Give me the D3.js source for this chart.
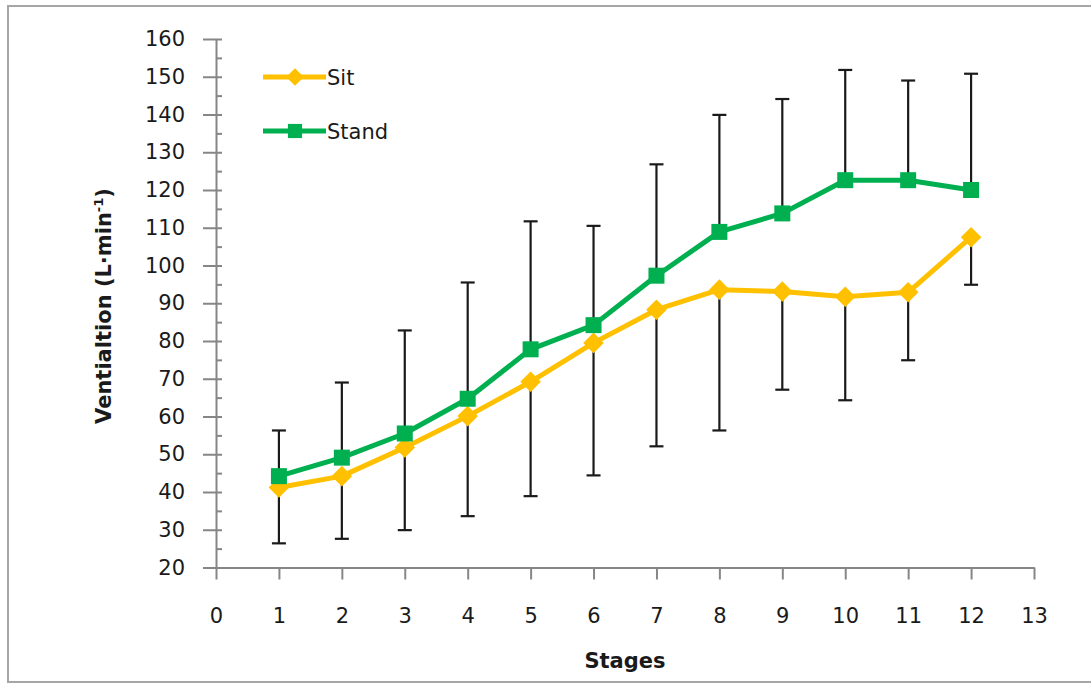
<!doctype html>
<html>
<head>
<meta charset="UTF-8">
<script src="https://d3js.org/d3.v7.min.js"></script>
<style>
  body { margin: 0; background: #fff; }
  svg text { font-family: "DejaVu Sans", sans-serif; fill: #1a1a1a; }
</style>
</head>
<body>
<div id="chart"></div>
<script>
// data
var stages = [1, 2, 3, 4, 5, 6, 7, 8, 9, 10, 11, 12];
var sit = [41.2, 44.2, 51.8, 60.1, 69.2, 79.5, 88.3, 93.6, 93.1, 91.7, 92.9, 107.5];
var stand = [44.2, 49.1, 55.5, 64.7, 77.8, 84.2, 97.3, 108.9, 113.8, 122.6, 122.6, 120.0];
var standUpper = [56.3, 69.0, 82.8, 95.5, 111.7, 110.5, 126.8, 139.9, 144.1, 151.8, 149.0, 150.8];
var sitLower = [26.4, 27.6, 29.9, 33.6, 38.9, 44.4, 52.1, 56.3, 67.1, 64.3, 74.9, 94.9];
var xTicks = d3.range(0, 14);
var yTicks = d3.range(20, 161, 10);
var yMinor = d3.range(25, 160, 10);

var width = 1091, height = 683;
var sitColor = "#FFC000", standColor = "#00B050", axisColor = "#868686";

var svg = d3.select("#chart").append("svg")
	.attr("width", width)
	.attr("height", height);

// frame (right side runs off the picture)
svg.append("rect")
	.attr("x", 8).attr("y", 6)
	.attr("width", 1100).attr("height", 676)
	.attr("fill", "none")
	.attr("stroke", "#a6a6a6")
	.attr("stroke-width", 2);

var x = d3.scaleLinear().domain([0, 13]).range([216, 1034]);
var y = d3.scaleLinear().domain([20, 160]).range([567.5, 39]);

// Y axis - major ticks cross the line
var yAxis = svg.append("g")
	.attr("transform", "translate(" + x(0) + ",0)")
	.call(d3.axisLeft(y).tickValues(yTicks).tickSize(13).tickSizeOuter(0).tickPadding(18));
yAxis.selectAll(".tick line").attr("x1", 6);
yAxis.selectAll("text").style("font-size", "21px");

// minor ticks inside
svg.append("g")
	.attr("transform", "translate(" + x(0) + ",0)")
	.call(d3.axisLeft(y).tickValues(yMinor).tickSize(-6).tickFormat(""))
	.call(g => g.select(".domain").remove());

// X axis
var xAxis = svg.append("g")
	.attr("transform", "translate(0," + y(20) + ")")
	.call(d3.axisBottom(x).tickValues(xTicks).tickSize(12).tickSizeOuter(0).tickPadding(29));
xAxis.selectAll("text").style("font-size", "21px");

svg.selectAll(".domain, .tick line")
	.attr("stroke", axisColor)
	.attr("stroke-width", 2);

// axis titles
svg.append("text")
	.attr("x", x(6.5))
	.attr("y", 668)
	.attr("text-anchor", "middle")
	.style("font-size", "21px")
	.style("font-weight", "bold")
	.text("Stages");

var yTitle = svg.append("text")
	.attr("transform", "translate(111,306) rotate(-90)")
	.attr("text-anchor", "middle")
	.style("font-size", "21px")
	.style("font-weight", "bold");
yTitle.append("tspan").text("Ventialtion (L·min");
yTitle.append("tspan").attr("dy", -8).style("font-size", "13px").text("-1");
yTitle.append("tspan").attr("dy", 8).text(")");

// error bars: Stand up, Sit down
var capW = 7;
var errs = svg.append("g").attr("stroke", "#1a1a1a").attr("stroke-width", 2.2);
stages.forEach(function (s, i) {
	errs.append("line").attr("x1", x(s)).attr("x2", x(s)).attr("y1", y(stand[i])).attr("y2", y(standUpper[i]));
	errs.append("line").attr("x1", x(s) - capW).attr("x2", x(s) + capW).attr("y1", y(standUpper[i])).attr("y2", y(standUpper[i]));
	errs.append("line").attr("x1", x(s)).attr("x2", x(s)).attr("y1", y(sit[i])).attr("y2", y(sitLower[i]));
	errs.append("line").attr("x1", x(s) - capW).attr("x2", x(s) + capW).attr("y1", y(sitLower[i])).attr("y2", y(sitLower[i]));
});

var line = d3.line().x(d => x(d[0])).y(d => y(d[1]));
var diamond = d3.symbol().type(d3.symbolDiamond2).size(270);
var square = d3.symbol().type(d3.symbolSquare).size(256);

function drawSeries(vals, color, sym) {
	var pts = stages.map((s, i) => [s, vals[i]]);
	svg.append("path")
		.datum(pts)
		.attr("d", line)
		.attr("fill", "none")
		.attr("stroke", color)
		.attr("stroke-width", 5)
		.attr("stroke-linejoin", "round");
	svg.append("g").selectAll("path")
		.data(pts)
		.enter()
		.append("path")
			.attr("d", sym)
			.attr("transform", d => "translate(" + x(d[0]) + "," + y(d[1]) + ")")
			.attr("fill", color);
}
drawSeries(sit, sitColor, diamond);
drawSeries(stand, standColor, square);

// legend
var legend = [
	{ name: "Sit", color: sitColor, sym: d3.symbol().type(d3.symbolDiamond2).size(200), y: 77 },
	{ name: "Stand", color: standColor, sym: d3.symbol().type(d3.symbolSquare).size(200), y: 131 }
];
legend.forEach(function (l) {
	svg.append("line")
		.attr("x1", 263).attr("x2", 326)
		.attr("y1", l.y).attr("y2", l.y)
		.attr("stroke", l.color)
		.attr("stroke-width", 5);
	svg.append("path")
		.attr("d", l.sym)
		.attr("transform", "translate(295," + l.y + ")")
		.attr("fill", l.color);
	svg.append("text")
		.attr("x", 327)
		.attr("y", l.y)
		.attr("dy", "0.36em")
		.style("font-size", "21px")
		.text(l.name);
});
</script>
</body>
</html>
